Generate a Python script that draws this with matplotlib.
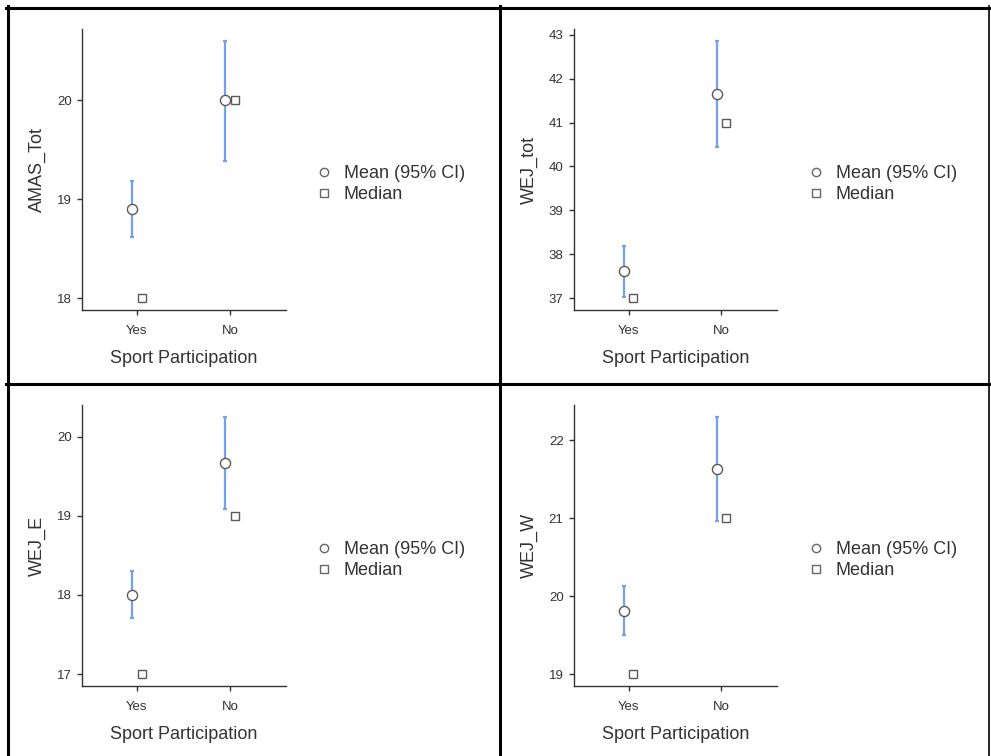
import matplotlib
matplotlib.use("Agg")
import matplotlib.pyplot as plt
from matplotlib.lines import Line2D

plt.rcParams["font.family"] = ["Liberation Sans", "DejaVu Sans"]

groups = ["Yes", "No"]

# one entry per panel: variable, means, CI low, CI high, medians
variables = ["AMAS_Tot", "WEJ_tot", "WEJ_E", "WEJ_W"]
means = [[18.90, 20.00], [37.61, 41.65], [18.00, 19.67], [19.81, 21.63]]
ci_low = [[18.62, 19.39], [37.03, 40.45], [17.71, 19.09], [19.50, 20.97]]
ci_high = [[19.18, 20.60], [38.19, 42.86], [18.30, 20.25], [20.13, 22.30]]
medians = [[18, 20], [37, 41], [17, 19], [19, 21]]
y_ticks = [[18, 19, 20], [37, 38, 39, 40, 41, 42, 43], [17, 18, 19, 20], [19, 20, 21, 22]]
y_limits = [(17.88, 20.72), (36.73, 43.13), (16.85, 20.40), (18.85, 22.45)]

W, H = 991, 756
fig = plt.figure(figsize=(W / 100, H / 100), dpi=100)
fig.patch.set_facecolor("white")

# axes boxes in pixels: left, top, right, bottom
boxes = [(82, 29, 286, 310), (574, 29, 777, 310),
         (82, 405, 286, 686), (574, 405, 777, 686)]
legend_pos = [(315, 184), (807, 184), (315, 560), (807, 560)]

ci_color = "#74A1EC"
edge = "#595959"
text_col = "#333333"

for k in range(4):
    l, t, r, b = boxes[k]
    ax = fig.add_axes([l / W, 1 - b / H, (r - l) / W, (b - t) / H])
    xs = range(len(groups))
    xm = [x - 0.05 for x in xs]
    xd = [x + 0.05 for x in xs]
    lo = [m - c for m, c in zip(means[k], ci_low[k])]
    hi = [c - m for m, c in zip(means[k], ci_high[k])]
    ax.errorbar(xm, means[k], yerr=[lo, hi], fmt="none", ecolor=ci_color,
                elinewidth=1.6, capsize=1.6, capthick=1.6, zorder=2)
    ax.plot(xm, means[k], "o", ms=7.3, mfc="white", mec=edge, mew=1.0, ls="none", zorder=3)
    ax.plot(xd, medians[k], "s", ms=6.3, mfc="white", mec=edge, mew=1.0, ls="none", zorder=3)

    ax.set_xlim(-0.59, 1.6)
    ax.set_ylim(*y_limits[k])
    ax.set_xticks(list(xs))
    ax.set_xticklabels(groups)
    ax.set_yticks(y_ticks[k])
    ax.tick_params(labelsize=9.5, colors=text_col, length=3.5, width=1, pad=4)
    ax.tick_params(axis="x", pad=7)
    for s in ["top", "right"]:
        ax.spines[s].set_visible(False)
    for s in ["left", "bottom"]:
        ax.spines[s].set_color(text_col)
        ax.spines[s].set_linewidth(1)
    ax.set_xlabel("Sport Participation", fontsize=13, color=text_col, labelpad=10)
    ax.set_ylabel(variables[k], fontsize=13, color=text_col, labelpad=8)

    handles = [
        Line2D([], [], marker="o", ls="none", ms=6, mfc="white", mec="#666666", mew=1.0),
        Line2D([], [], marker="s", ls="none", ms=5.5, mfc="white", mec="#666666", mew=1.0),
    ]
    lx, ly = legend_pos[k]
    leg = ax.legend(handles, ["Mean (95% CI)", "Median"], loc="center left",
                    bbox_to_anchor=(lx / W, 1 - ly / H), bbox_transform=fig.transFigure,
                    frameon=False, fontsize=13, handlelength=1.0, handletextpad=0.6,
                    labelspacing=0.22, borderpad=0, borderaxespad=0)
    for txt in leg.get_texts():
        txt.set_color(text_col)

# cell borders
lw = 2.2
fig.add_artist(Line2D([6 / W, 989 / W], [1 - 7.5 / H] * 2, transform=fig.transFigure, color="black", lw=lw))
fig.add_artist(Line2D([7.5 / W] * 2, [0, 1 - 6 / H], transform=fig.transFigure, color="black", lw=lw))
fig.add_artist(Line2D([499.5 / W] * 2, [0, 1 - 6 / H], transform=fig.transFigure, color="black", lw=lw))
fig.add_artist(Line2D([6 / W, 989 / W], [1 - 383.5 / H] * 2, transform=fig.transFigure, color="black", lw=lw))
fig.add_artist(Line2D([988.5 / W] * 2, [0, 1 - 6 / H], transform=fig.transFigure, color="black", lw=1.2))

fig.savefig("out.png", dpi=100)
